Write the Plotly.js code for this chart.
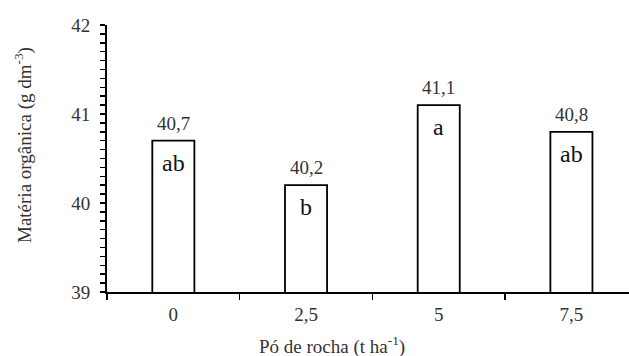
<!DOCTYPE html>
<html>
<head>
<meta charset="utf-8">
<script src="https://cdn.plot.ly/plotly-3.0.1.min.js"></script>
<style>html,body{margin:0;padding:0;background:#fff;}#chart{width:629px;height:356px;}</style>
</head>
<body>
<div id="chart"></div>
<script>
var categories = ["0", "2,5", "5", "7,5"];
var values = [40.7, 40.2, 41.1, 40.8];
var valueLabels = ["40,7", "40,2", "41,1", "40,8"];
var letters = ["ab", "b", "a", "ab"];
var yTickVals = [39, 40, 41, 42];
var yTickText = ["39", "40", "41", "42"];

var FONT = "'Liberation Serif', serif";
var TXT = "#333333";

var annotations = [];
for (var i = 0; i < categories.length; i++) {
  annotations.push({
    x: i, y: values[i], xref: "x", yref: "y",
    text: valueLabels[i], showarrow: false, yanchor: "bottom", yshift: 5,
    font: {family: FONT, size: 19, color: TXT}
  });
  annotations.push({
    x: i, y: values[i], xref: "x", yref: "y",
    text: letters[i], showarrow: false, yanchor: "top", yshift: -7,
    font: {family: FONT, size: 24, color: "#111111"}
  });
}
annotations.push({
  xref: "paper", yref: "paper", x: (23 - 107) / 522, y: (292 - 145) / 267,
  xanchor: "center", yanchor: "middle", textangle: -90, showarrow: false,
  text: "Matéria orgânica (g dm<sup>-3</sup>)",
  font: {family: FONT, size: 19, color: TXT}
});
annotations.push({
  xref: "paper", yref: "paper", x: (332 - 107) / 522, y: (292 - 345) / 267,
  xanchor: "center", yanchor: "middle", showarrow: false,
  text: "Pó de rocha (t ha<sup>-1</sup>)",
  font: {family: FONT, size: 19, color: TXT}
});

var barTrace = {
  type: "bar",
  x: categories,
  y: values,
  width: 0.317,
  marker: {color: "#ffffff", line: {color: "#000000", width: 1.8}},
  hoverinfo: "none"
};

// tick positions every 0.1 between the first and last labelled tick; only whole values get a label
var allTickVals = [];
var allTickText = [];
for (var k = 0; k <= (yTickVals.length - 1) * 10; k++) {
  var v = Math.round((yTickVals[0] + k / 10) * 10) / 10;
  allTickVals.push(v);
  var idx = yTickVals.indexOf(v);
  allTickText.push(idx >= 0 ? yTickText[idx] : "");
}

var layout = {
  width: 629, height: 356,
  margin: {l: 107, r: 0, t: 25, b: 64, pad: 0},
  paper_bgcolor: "#ffffff", plot_bgcolor: "#ffffff",
  showlegend: false,
  font: {family: FONT, size: 19, color: TXT},
  xaxis: {
    type: "category",
    range: [-0.5, 3.434],
    tickson: "boundaries",
    ticks: "outside", ticklen: 6, tickwidth: 1.5, tickcolor: "#000000",
    showline: true, linecolor: "#000000", linewidth: 1.5,
    showgrid: false, zeroline: false,
    ticklabelstandoff: 5,
    tickfont: {family: FONT, size: 19, color: TXT}
  },
  yaxis: {
    range: [yTickVals[0], yTickVals[yTickVals.length - 1]],
    tickmode: "array", tickvals: allTickVals, ticktext: allTickText,
    ticks: "outside", ticklen: 5, tickwidth: 1.5, tickcolor: "#000000",
    showline: true, linecolor: "#000000", linewidth: 2,
    showgrid: false, zeroline: false,
    ticklabelstandoff: 6,
    tickfont: {family: FONT, size: 19, color: TXT}
  },
  annotations: annotations
};

Plotly.newPlot("chart", [barTrace], layout, {displayModeBar: false, staticPlot: true});
</script>
</body>
</html>
